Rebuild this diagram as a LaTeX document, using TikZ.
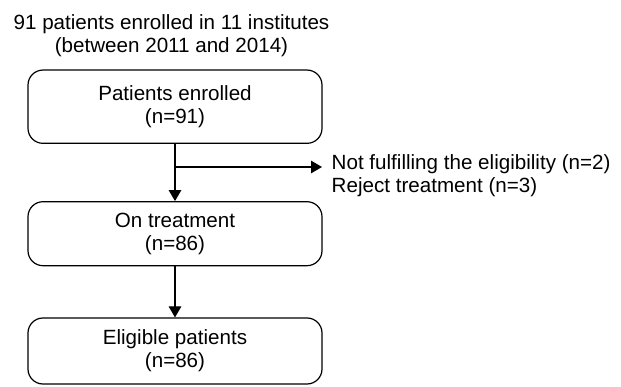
\documentclass[tikz,border=0pt]{standalone}
\usepackage{fontspec}
\setmainfont{Liberation Sans}
\usetikzlibrary{arrows.meta}
\begin{document}
\begin{tikzpicture}[x=1pt,y=-1pt,
  every node/.style={font=\fontsize{20.6}{23}\selectfont, text=black, inner sep=0pt},
  box/.style={draw=black, line width=1.2pt, rounded corners=15pt, minimum width=294pt, align=center},
  arr/.style={draw=black, line width=1.2pt, -{Triangle[length=11pt,width=12.5pt]}}]
\useasboundingbox (0,0) rectangle (621,387);
\node[align=center, anchor=north] (title) at (171.5,14.5) {91 patients enrolled in 11 institutes\\(between 2011 and 2014)};
\node[box, minimum height=73.3pt] (b1) at (175,106.7) {Patients enrolled\\(n=91)};
\node[box, minimum height=64pt] (b2) at (175,233.7) {On treatment\\(n=86)};
\node[box, minimum height=66pt] (b3) at (175,351) {Eligible patients\\(n=86)};
\node[align=left, anchor=north west] (ex) at (331.5,154.5) {Not fulfilling the eligibility (n=2)\\Reject treatment (n=3)};
\coordinate (br) at (175,167);
\coordinate (tip) at (322,167);
\draw[arr] (b1.south) -- (b2.north);
\draw[arr] (br) -- (tip);
\draw[arr] (b2.south) -- (b3.north);
\end{tikzpicture}
\end{document}
